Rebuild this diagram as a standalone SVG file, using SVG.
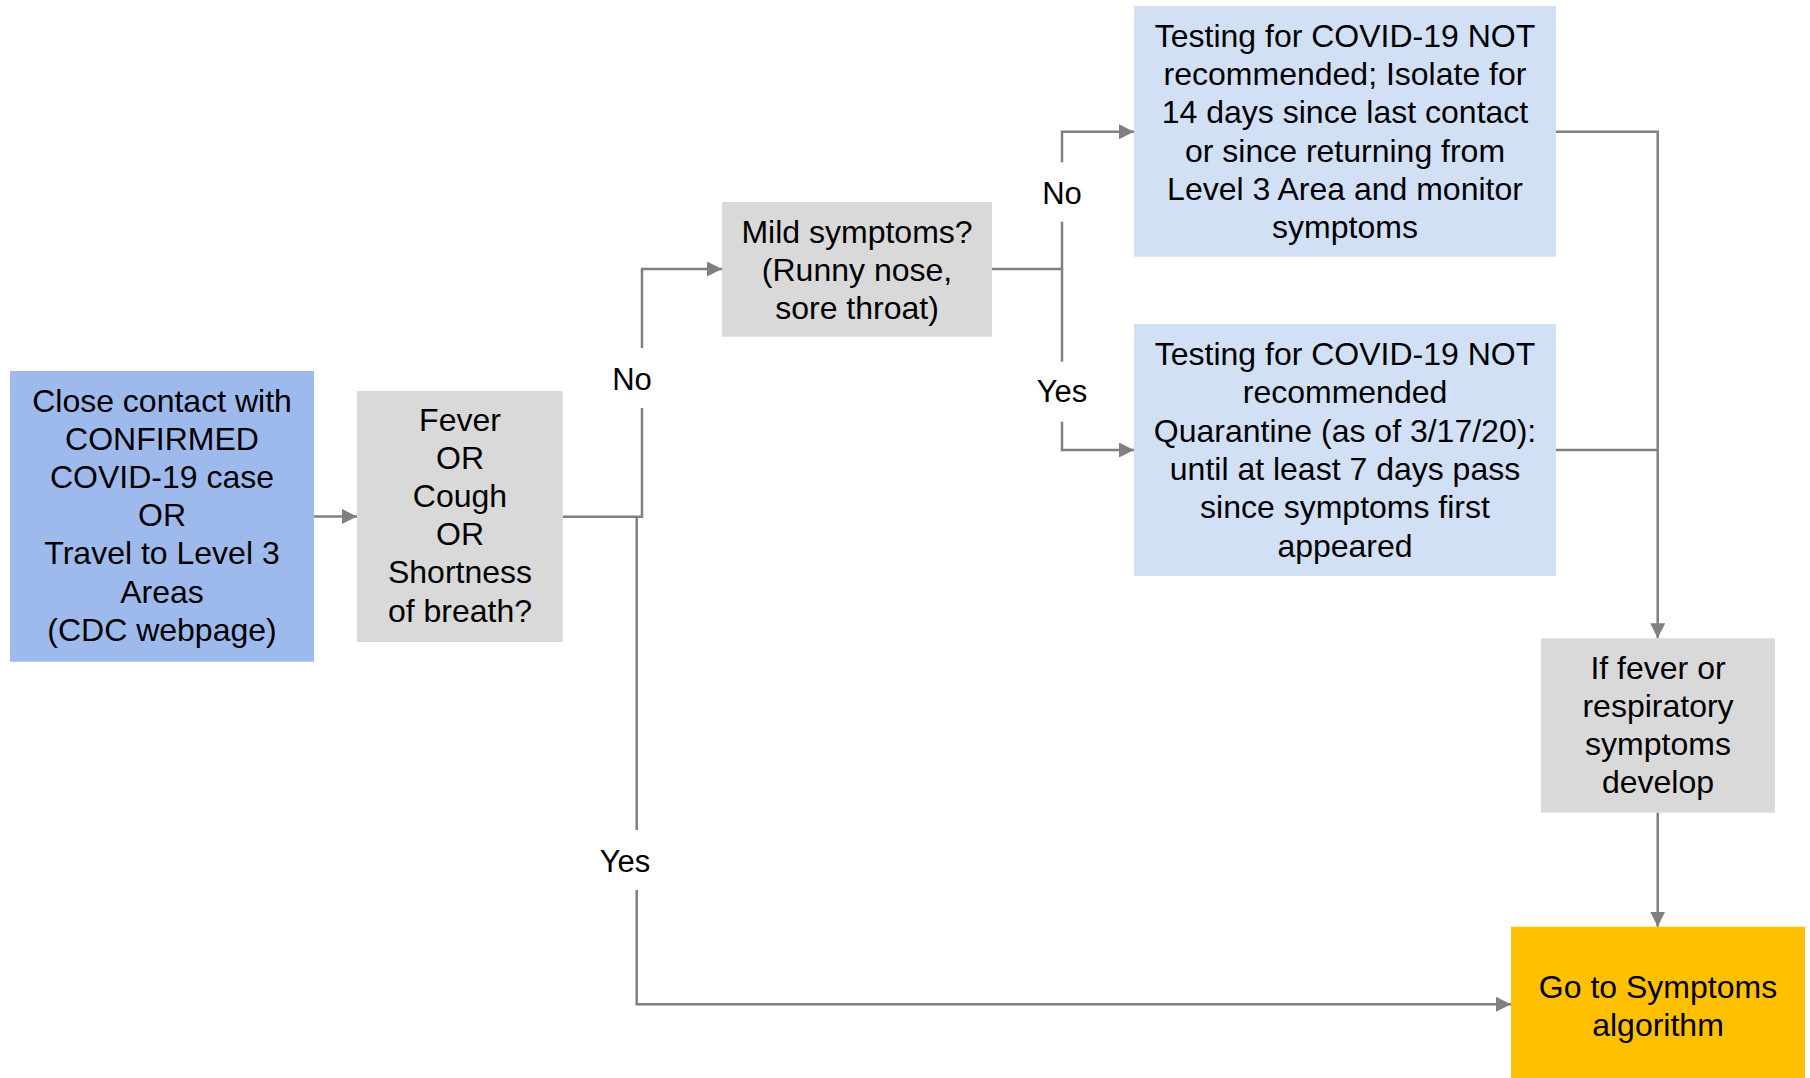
<svg xmlns="http://www.w3.org/2000/svg" width="1810" height="1078" viewBox="0 0 1810 1078">
<style>
text{font-family:"Liberation Sans",Arial,sans-serif;font-size:32px;fill:#000;text-anchor:middle}
.lbl{font-size:31px}
.c{fill:none;stroke:#808080;stroke-width:2.5}
.dark{fill:#9EBAEC}
.light{fill:#D2E0F6}
.gray{fill:#D9D9D9}
.orange{fill:#FFC000}
</style>
<defs>
<marker id="ah" markerUnits="userSpaceOnUse" markerWidth="16" markerHeight="16" refX="15" refY="7.5" orient="auto">
<path d="M0,0 L15,7.5 L0,15 Z" fill="#808080"/>
</marker>
</defs>
<rect width="1810" height="1078" fill="#fff"/>
<g id="connectors">
<path class="c" d="M314,516.5 H357" marker-end="url(#ah)"/>
<path class="c" d="M562.7,516.7 H642 V408"/>
<path class="c" d="M642,348 V269 H722" marker-end="url(#ah)"/>
<path class="c" d="M636.7,516.7 V830"/>
<path class="c" d="M636.7,890 V1004.3 H1511" marker-end="url(#ah)"/>
<path class="c" d="M992,269 H1062 V221.7"/>
<path class="c" d="M1062,162.3 V131.7 H1134" marker-end="url(#ah)"/>
<path class="c" d="M1062,269 V361.7"/>
<path class="c" d="M1062,421.7 V450 H1134" marker-end="url(#ah)"/>
<path class="c" d="M1556,131.7 H1657.7 V638.3" marker-end="url(#ah)"/>
<path class="c" d="M1556,450 H1657.7"/>
<path class="c" d="M1657.7,812.7 V926.7" marker-end="url(#ah)"/>
<text class="lbl" x="632" y="390">No</text>
<text class="lbl" x="625" y="871.7">Yes</text>
<text class="lbl" x="1062" y="204">No</text>
<text class="lbl" x="1062" y="401.7">Yes</text>
</g>
<g id="start">
<rect class="dark" x="10" y="371" width="304" height="290.7"/>
<text x="162" y="411.5">Close contact with</text>
<text x="162" y="449.7">CONFIRMED</text>
<text x="162" y="487.9">COVID-19 case</text>
<text x="162" y="526.1">OR</text>
<text x="162" y="564.3">Travel to Level 3</text>
<text x="162" y="602.5">Areas</text>
<text x="162" y="640.7">(CDC webpage)</text>
</g>
<g id="fever">
<rect class="gray" x="357" y="391" width="205.7" height="251"/>
<text x="460" y="430.5">Fever</text>
<text x="460" y="468.7">OR</text>
<text x="460" y="506.9">Cough</text>
<text x="460" y="545.1">OR</text>
<text x="460" y="583.3">Shortness</text>
<text x="460" y="621.5">of breath?</text>
</g>
<g id="mild">
<rect class="gray" x="722" y="202" width="270" height="134.7"/>
<text x="857" y="242.5">Mild symptoms?</text>
<text x="857" y="280.7">(Runny nose,</text>
<text x="857" y="318.9">sore throat)</text>
</g>
<g id="isolate">
<rect class="light" x="1134" y="6" width="422" height="250.7"/>
<text x="1345" y="46.7">Testing for COVID-19 NOT</text>
<text x="1345" y="85">recommended; Isolate for</text>
<text x="1345" y="123.3">14 days since last contact</text>
<text x="1345" y="161.6">or since returning from</text>
<text x="1345" y="199.9">Level 3 Area and monitor</text>
<text x="1345" y="238.2">symptoms</text>
</g>
<g id="quarantine">
<rect class="light" x="1134" y="324" width="422" height="252"/>
<text x="1345" y="365">Testing for COVID-19 NOT</text>
<text x="1345" y="403.3">recommended</text>
<text x="1345" y="441.6">Quarantine (as of 3/17/20):</text>
<text x="1345" y="479.9">until at least 7 days pass</text>
<text x="1345" y="518.2">since symptoms first</text>
<text x="1345" y="556.5">appeared</text>
</g>
<g id="develop">
<rect class="gray" x="1541" y="638.3" width="234" height="174.4"/>
<text x="1658" y="679.3">If fever or</text>
<text x="1658" y="717.3">respiratory</text>
<text x="1658" y="755.3">symptoms</text>
<text x="1658" y="793.3">develop</text>
</g>
<g id="symptoms">
<rect class="orange" x="1511" y="926.7" width="294" height="151.3"/>
<text x="1658" y="997.7">Go to Symptoms</text>
<text x="1658" y="1036">algorithm</text>
</g>
</svg>
